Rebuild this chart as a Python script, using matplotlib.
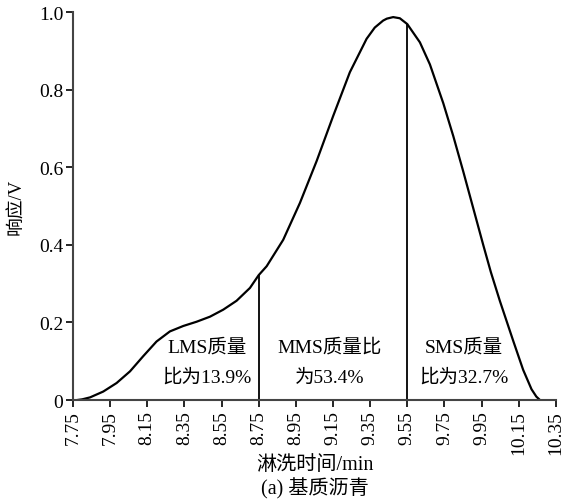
import matplotlib
matplotlib.use("Agg")
import matplotlib.pyplot as plt

plt.rcParams['font.family'] = ['Liberation Serif', 'Noto Sans CJK SC']

# elution time (min) and detector response (V)
time = [7.77, 7.80, 7.842, 7.913, 7.985, 8.057, 8.128, 8.20, 8.272, 8.344, 8.416,
        8.488, 8.559, 8.631, 8.703, 8.75, 8.793, 8.882, 8.972, 9.062, 9.151, 9.241,
        9.331, 9.375, 9.42, 9.44, 9.474, 9.51, 9.55, 9.618, 9.672, 9.744, 9.798,
        9.851, 9.905, 9.959, 10.00, 10.049, 10.121, 10.174, 10.219, 10.245, 10.265]
resp = [0.0, 0.002, 0.007, 0.022, 0.044, 0.074, 0.113, 0.151, 0.177, 0.191, 0.202,
        0.215, 0.233, 0.256, 0.289, 0.322, 0.345, 0.413, 0.508, 0.616, 0.732, 0.845,
        0.931, 0.960, 0.978, 0.983, 0.987, 0.984, 0.969, 0.922, 0.865, 0.765, 0.680,
        0.590, 0.495, 0.400, 0.330, 0.255, 0.152, 0.078, 0.028, 0.009, 0.0]

# split lines between LMS / MMS / SMS
cuts = [8.75, 9.55]

xticks = [7.75, 7.95, 8.15, 8.35, 8.55, 8.75, 8.95, 9.15, 9.35, 9.55, 9.75, 9.95, 10.15, 10.35]
yticks = [0, 0.2, 0.4, 0.6, 0.8, 1.0]
ytick_labels = ['0', '0.2', '0.4', '0.6', '0.8', '1.0']

labels = [('LMS质量', '比为13.9%'), ('MMS质量比', '为53.4%'), ('SMS质量', '比为32.7%')]
label_x = [8.47, 9.134, 9.857]

fig = plt.figure(figsize=(5.79, 5.02), dpi=100)
ax = fig.add_axes([0.126, 0.201, 0.834, 0.773])

ax.plot(time, resp, color='black', lw=1.6)
for c in cuts:
    ax.vlines(c, 0, resp[time.index(c)], color='black', lw=1.3)

for (l1, l2), x in zip(labels, label_x):
    ax.text(x, 0.137, l1, ha='center', va='center', fontsize=14)
    ax.text(x, 0.059, l2, ha='center', va='center', fontsize=14)

ax.set_xlim(7.75, 10.35)
ax.set_ylim(0, 1.0)
ax.set_xticks(xticks)
ax.set_xticklabels([f'{t:.2f}' for t in xticks], rotation=90)
ax.set_yticks(yticks)
ax.set_yticklabels(ytick_labels)
ax.tick_params(direction='out', length=5, width=1.2, labelsize=14, colors='black', pad=2)

for s in ['top', 'right']:
    ax.spines[s].set_visible(False)
for s in ['left', 'bottom']:
    ax.spines[s].set_color('#444444')
    ax.spines[s].set_linewidth(1.5)

ax.set_ylabel('响应/V', fontsize=13.5)
ax.yaxis.set_label_coords(-0.098, 0.5)
fig.text(0.543, 0.073, '淋洗时间/min', ha='center', va='center', fontsize=14.5)
fig.text(0.543, 0.027, '(a) 基质沥青', ha='center', va='center', fontsize=14.5)

fig.savefig('out.png', dpi=100)
